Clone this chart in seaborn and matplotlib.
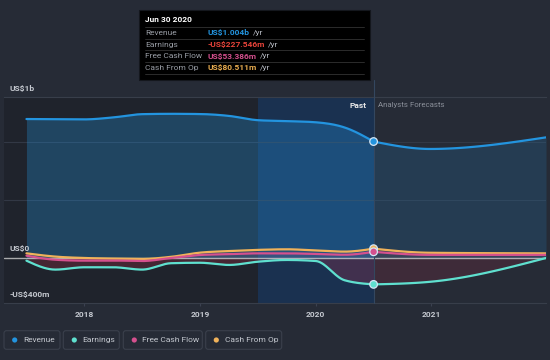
import numpy as np
import pandas as pd
import matplotlib
matplotlib.use('Agg')
import matplotlib.pyplot as plt
import seaborn as sns
from matplotlib.patches import Rectangle, FancyBboxPatch, Circle
from matplotlib.lines import Line2D
from matplotlib.transforms import IdentityTransform

# --- data (US$ billions, time as decimal years) ---
past_t = [2017.5, 2017.75, 2018.0, 2018.25, 2018.5, 2018.75, 2019.0,
          2019.25, 2019.5, 2019.75, 2020.0, 2020.25, 2020.5]
fcst_t = [2020.5, 2020.99, 2021.99]

revenue_past = [1.198, 1.197, 1.195, 1.212, 1.240, 1.243, 1.241,
                1.225, 1.188, 1.180, 1.170, 1.125, 1.004]
earnings_past = [-0.023, -0.100, -0.080, -0.080, -0.100, -0.045, -0.041,
                 -0.060, -0.032, -0.017, -0.026, -0.192, -0.2275]
fcf_past = [0.020, -0.015, -0.023, -0.022, -0.026, 0.000, 0.026,
            0.033, 0.040, 0.040, 0.035, 0.028, 0.0534]
cfo_past = [0.040, 0.012, 0.000, -0.005, -0.008, 0.010, 0.046,
            0.060, 0.070, 0.075, 0.065, 0.055, 0.0805]

revenue_fcst = [1.004, 0.940, 1.040]
earnings_fcst = [-0.2275, -0.205, 0.000]
fcf_fcst = [0.0534, 0.027, 0.027]
cfo_fcst = [0.0805, 0.045, 0.040]

year_ticks = [2018, 2019, 2020, 2021]
year_labels = ['2018', '2019', '2020', '2021']

tooltip_title = 'Jun 30 2020'
tooltip_rows = ['Revenue', 'Earnings', 'Free Cash Flow', 'Cash From Op']
tooltip_values = ['US$1.004b', '-US$227.546m', 'US$53.386m', 'US$80.511m']

# colours
BG = '#262b36'
PAST_BG = '#1f232c'
BAND = '#1a3150'
C_REV = '#2394df'
C_EARN = '#5fe0cf'
C_FCF = '#d5508e'
C_CFO = '#f0b25a'
C_TEXT = '#c5c9d0'
C_GRID = '#323845'


def smooth(t, v, n=30):
    """monotone cubic curve through the points (like d3 curveMonotoneX)"""
    t = np.asarray(t, float)
    v = np.asarray(v, float)
    h = np.diff(t)
    s = np.diff(v) / h
    m = np.zeros_like(v)
    for i in range(1, len(v) - 1):
        p = (s[i - 1] * h[i] + s[i] * h[i - 1]) / (h[i - 1] + h[i])
        m[i] = (np.sign(s[i - 1]) + np.sign(s[i])) * min(abs(s[i - 1]), abs(s[i]), 0.5 * abs(p))
    m[0] = (3 * s[0] - m[1]) / 2
    m[-1] = (3 * s[-1] - m[-2]) / 2
    xs, ys = [], []
    for i in range(len(h)):
        u = np.linspace(0, 1, n, endpoint=(i == len(h) - 1))
        h00 = 2 * u**3 - 3 * u**2 + 1
        h10 = u**3 - 2 * u**2 + u
        h01 = -2 * u**3 + 3 * u**2
        h11 = u**3 - u**2
        xs.append(t[i] + u * h[i])
        ys.append(h00 * v[i] + h10 * h[i] * m[i] + h01 * v[i + 1] + h11 * h[i] * m[i + 1])
    return np.concatenate(xs), np.concatenate(ys)


sns.set_theme(style='dark')
plt.rcParams['font.family'] = ['Roboto', 'DejaVu Sans']

W, H = 550, 360
fig = plt.figure(figsize=(5.5, 3.6), dpi=100)
fig.patch.set_facecolor(BG)
ax = fig.add_axes([4 / W, 57 / H, 542 / W, 206 / H])
ax.set_facecolor(BG)

x0, x1 = 2017.306, 2021.99
ax.set_xlim(x0, x1)
ax.set_ylim(-0.388, 1.388)

# background regions: past, last year highlight
ax.axvspan(x0, 2019.5, color=PAST_BG, lw=0, zorder=0)
ax.axvspan(2019.5, 2020.5, color=BAND, lw=0, zorder=0)

for g in [0.5, 1.0]:
    ax.axhline(g, color=C_GRID, lw=0.8, zorder=1)

series = [
    ('Revenue', revenue_past, revenue_fcst, C_REV),
    ('Earnings', earnings_past, earnings_fcst, C_EARN),
    ('Free Cash Flow', fcf_past, fcf_fcst, C_FCF),
    ('Cash From Op', cfo_past, cfo_fcst, C_CFO),
]

rows = []
for name, vp, vf, col in series:
    for part, tt, vv in [('past', past_t, vp), ('fcst', fcst_t, vf)]:
        xs, ys = smooth(tt, vv)
        rows.append(pd.DataFrame({'t': xs, 'v': ys, 'series': name, 'part': part}))
curves = pd.concat(rows, ignore_index=True)

# area fills
fill_style = {
    'Revenue': (C_REV, 0.30, 0.17),
    'Earnings': ('#c0304a', 0.24, 0.16),
    'Free Cash Flow': (C_FCF, 0.14, 0.10),
    'Cash From Op': (C_CFO, 0.06, 0.04),
}
for (name, part), d in curves.groupby(['series', 'part']):
    col, a_past, a_fcst = fill_style[name]
    ax.fill_between(d['t'], d['v'], 0, color=col, lw=0,
                    alpha=a_past if part == 'past' else a_fcst, zorder=2)

ax.axhline(0, color='#d8d8d8', lw=1.0, alpha=0.75, zorder=3)

for name, vp, vf, col in [series[0], series[3], series[2], series[1]]:
    for part in ['past', 'fcst']:
        d = curves[(curves['series'] == name) & (curves['part'] == part)]
        sns.lineplot(data=d, x='t', y='v', ax=ax, color=col, lw=1.6,
                     sort=False, estimator=None, zorder=4)

# divider between past and forecasts
ax.axvline(2020.5, ymin=0, ymax=1 + 17 / 206, color='#34475f', lw=0.8,
           clip_on=False, zorder=3)

# markers at Jun 30 2020
marks = pd.DataFrame({
    't': [2020.5] * 4,
    'v': [cfo_past[-1], fcf_past[-1], revenue_past[-1], earnings_past[-1]],
    'series': ['Cash From Op', 'Free Cash Flow', 'Revenue', 'Earnings'],
})
sns.scatterplot(data=marks, x='t', y='v', hue='series', ax=ax,
                palette={'Revenue': C_REV, 'Earnings': C_EARN,
                         'Free Cash Flow': C_FCF, 'Cash From Op': C_CFO},
                s=30, edgecolor='#d5e6f5', linewidth=0.9, legend=False, zorder=6)

# axes styling
ax.set_xlabel('')
ax.set_ylabel('')
ax.set_yticks([])
ax.set_xticks(year_ticks)
ax.set_xticklabels(year_labels)
ax.tick_params(axis='x', colors='#3b4150', length=2.5, width=0.8, pad=3.5,
               labelsize=6, labelcolor=C_TEXT, bottom=True)
for lab in ax.get_xticklabels():
    lab.set_fontweight('bold')
for side in ['left', 'right']:
    ax.spines[side].set_visible(False)
for side in ['top', 'bottom']:
    ax.spines[side].set_visible(True)
    ax.spines[side].set_color('#383e4a')
    ax.spines[side].set_linewidth(0.8)
ax.grid(False)


def fx(px, py):
    return px / W, 1 - py / H


# y range labels
for txt, py in [('US$1b', 89), ('US$0', 248), ('-US$400m', 295)]:
    fig.text(*fx(9.5, py), txt, color=C_TEXT, fontsize=6, fontweight='bold',
             ha='left', va='center')

fig.text(*fx(367, 105), 'Past', color='#e8e8e8', fontsize=6, fontweight='bold',
         ha='right', va='center')
fig.text(*fx(378, 105), 'Analysts Forecasts', color='#8a8f99', fontsize=5.7,
         ha='left', va='center')

# tooltip box
fig.add_artist(Rectangle((139, H - 80), 231, 70, transform=IdentityTransform(),
                         facecolor='#000000', edgecolor='#14171d', lw=0.8, zorder=10))
fig.text(*fx(145, 20), tooltip_title, color='white', fontsize=6, fontweight='bold',
         ha='left', va='center', zorder=11)
for yy in [27, 38.5, 50, 62, 74]:
    fig.add_artist(Line2D([145, 364], [H - yy, H - yy], transform=IdentityTransform(),
                          color='#333333', lw=0.6, zorder=11))
fig.canvas.draw()
renderer = fig.canvas.get_renderer()
value_cols = [C_REV, '#e8443a', C_FCF, '#e9ad50']
for i, (lab, val, col) in enumerate(zip(tooltip_rows, tooltip_values, value_cols)):
    py = 33 + i * 11.6
    fig.text(*fx(145, py), lab, color='#9a9ea6', fontsize=6, ha='left',
             va='center', zorder=11)
    tv = fig.text(*fx(208, py), val, color=col, fontsize=6, fontweight='bold',
                  ha='left', va='center', zorder=11)
    ext = tv.get_window_extent(renderer)
    fig.text((ext.x1 + 3) / W, 1 - py / H, '/yr', color='#b8bcc4', fontsize=6,
             ha='left', va='center', zorder=11)

# legend boxes
legend_boxes = [(4, 56, 14.7, 23.3), (63.3, 56, 74.3, 82.3),
                (123.3, 79, 134.3, 142.3), (205.7, 76, 216.3, 224.7)]
for (bx, bw, dx, tx), (name, _, _, col) in zip(legend_boxes, series):
    fig.add_artist(FancyBboxPatch((bx, H - 349.3), bw, 18.6,
                                  boxstyle='round,pad=0,rounding_size=2.5',
                                  transform=IdentityTransform(),
                                  facecolor=BG, edgecolor='#3a404c', lw=0.8))
    fig.add_artist(Circle((dx, H - 340), 2.6, transform=IdentityTransform(),
                          facecolor=col, edgecolor='none'))
    fig.text(tx / W, 1 - 340 / H, name, color=C_TEXT, fontsize=6,
             ha='left', va='center')

fig.savefig('out.png', dpi=100, facecolor=BG)
